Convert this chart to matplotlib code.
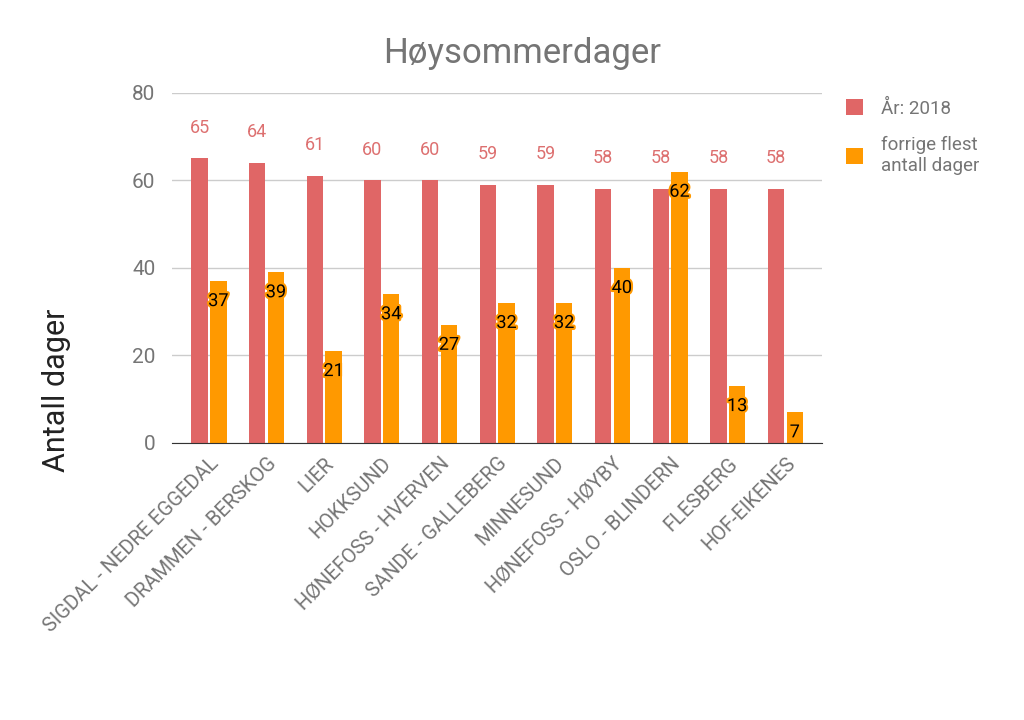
import matplotlib
matplotlib.use("Agg")
import matplotlib.pyplot as plt
import matplotlib.patheffects as pe
import numpy as np

plt.rcParams['font.family'] = ['Roboto', 'DejaVu Sans']

stations = ['SIGDAL - NEDRE EGGEDAL', 'DRAMMEN - BERSKOG', 'LIER', 'HOKKSUND',
            'HØNEFOSS - HVERVEN', 'SANDE - GALLEBERG', 'MINNESUND',
            'HØNEFOSS - HØYBY', 'OSLO - BLINDERN', 'FLESBERG', 'HOF-EIKENES']
days_2018 = [65, 64, 61, 60, 60, 59, 59, 58, 58, 58, 58]
prev_max = [37, 39, 21, 34, 27, 32, 32, 40, 62, 13, 7]

red = '#e06666'
orange = '#ff9900'
grey = '#757575'

fig = plt.figure(figsize=(10.24, 7.2), dpi=100)
ax = fig.add_axes([0.168, 0.385, 0.635, 0.486])

x = np.arange(len(stations))
w = 0.285
b1 = ax.bar(x - w / 2 - 0.02, days_2018, w, color=red, label='År: 2018', zorder=3)
b2 = ax.bar(x + w / 2 + 0.02, prev_max, w, color=orange, label='forrige flest\nantall dager', zorder=3)

for rect, v in zip(b1, days_2018):
    ax.text(rect.get_x() + rect.get_width() / 2, v + 7, str(v), ha='center', va='center',
            fontsize=13, color='#dd7070')
for rect, v in zip(b2, prev_max):
    t = ax.text(rect.get_x() + rect.get_width() / 2, v - 4.6, str(v), ha='center', va='center',
                fontsize=13, color='black', zorder=5)
    t.set_path_effects([pe.withStroke(linewidth=3, foreground=orange)])

ax.set_xlim(-0.64, len(stations) - 0.36)
ax.set_ylim(0, 80)
ax.set_yticks([0, 20, 40, 60, 80])
ax.yaxis.grid(True, color='#cccccc', linewidth=1, zorder=0)
ax.set_xticks(x)
ax.set_xticklabels(stations, rotation=45, ha='right', rotation_mode='anchor',
                   fontsize=14.5, color=grey)
ax.tick_params(axis='y', labelsize=15, colors=grey, length=0, pad=12)
ax.tick_params(axis='x', length=0, pad=8)
for s in ['top', 'right', 'left']:
    ax.spines[s].set_visible(False)
ax.spines['bottom'].set_color('#333333')
ax.spines['bottom'].set_zorder(4)

fig.text(0.055, 0.458, 'Antall dager', rotation=90, ha='center', va='center',
         fontsize=22, color='#222222')
fig.text(0.51, 0.925, 'Høysommerdager', ha='center', va='center', fontsize=25, color=grey)

leg = ax.legend(loc='upper left', bbox_to_anchor=(1.01, 1.03), frameon=False,
                fontsize=13.5, labelcolor=grey, handlelength=0.9, handleheight=0.9,
                labelspacing=1.0, handletextpad=1.0)

fig.savefig('out.png', dpi=100)
